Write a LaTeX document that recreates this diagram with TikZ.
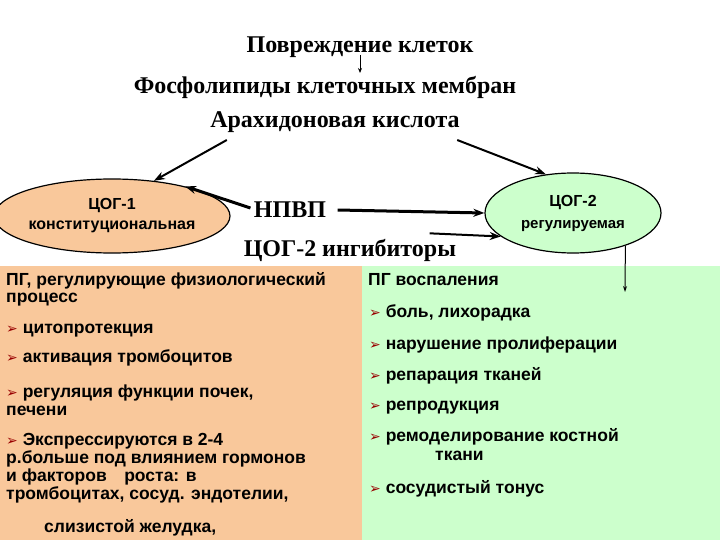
\documentclass[tikz,border=0pt]{standalone}
\usepackage{fontspec}
\usetikzlibrary{shapes.geometric,arrows.meta}
\setmainfont{Liberation Serif}
\setsansfont{Liberation Sans}
\newfontfamily\djfont{DejaVu Sans}
\definecolor{orfill}{HTML}{F9C89B}
\definecolor{grfill}{HTML}{CCFFCC}
\definecolor{bul}{HTML}{990000}
\newcommand{\bl}{{\djfont\color{bul}\fontsize{14}{14}\selectfont ➢}\ }
\begin{document}
\begin{tikzpicture}[x=1pt,y=-1pt,
  ser/.style={font=\bfseries\fontsize{24}{26}\selectfont\addfontfeature{FakeStretch=1.0}},
  lt/.style={font=\sffamily\bfseries\fontsize{17.5}{20}\selectfont,anchor=base west,inner sep=0},
  arr/.style={-{Stealth[length=11pt,width=8pt]},line width=2pt},
  ell/.style={ellipse,draw,line width=1.2pt,font=\sffamily\bfseries\fontsize{16}{18}\selectfont,align=center,inner sep=0pt}]
\useasboundingbox (0,0) rectangle (720,540);
\fill[orfill] (0,266) rectangle (362,540);
\fill[grfill] (362,266) rectangle (720,540);
\node[ser] (t1) at (360,47) {Повреждение клеток};
\node[ser] (t2) at (325,87) {Фосфолипиды клеточных мембран};
\node[ser] (t3) at (335,122) {Арахидоновая кислота};
\draw[-{Stealth[length=5pt,width=4pt]},line width=0.8pt] (360,55) -- (360,73);
\node[ell,fill=orfill,minimum width=198pt,minimum height=74pt] (c1) at (112,216) {ЦОГ-1\\[2pt]конституциональная};
\node[ell,fill=grfill,minimum width=176pt,minimum height=80pt] (c2) at (573,213) {ЦОГ-2\\[4pt]\fontsize{15}{17}\selectfont регулируемая};
\node[ser] (n) at (290,210) {НПВП};
\node[ser] (i) at (350,250) {ЦОГ-2 ингибиторы};
\draw[arr] (t3.south west) ++(20,4) -- (c1.40);
\draw[arr] (t3.south east) ++(-6,4) -- (c2.125);
\draw[arr,line width=3pt] (n.west) ++(0,-2) -- (c1.22);
\draw[arr,line width=3pt] (n.east) ++(8,0) -- (c2.180);
\draw[arr] (i.north east) ++(-30,-2) -- (c2.198);
\coordinate (pe) at (625,292);
\draw[-{Stealth[length=6pt,width=4pt]},line width=1pt] (c2.-32) -- (pe);
\node[lt] (l1) at (6,285) {ПГ, регулирующие физиологический};
\node[lt] (l2) at (6,302) {процесс};
\node[lt] (l3) at (6,333) {\bl цитопротекция};
\node[lt] (l4) at (6,362) {\bl активация тромбоцитов};
\node[lt] (l5) at (6,397) {\bl регуляция функции почек,};
\node[lt] (l6) at (6,415) {печени};
\node[lt] (l7) at (6,445) {\bl Экспрессируются в 2-4};
\node[lt] (l8) at (6,463) {р.больше под влиянием гормонов};
\node[lt] (l9) at (6,481) {и факторов\quad роста: в};
\node[lt] (l10) at (6,499) {тромбоцитах, сосуд. эндотелии,};
\node[lt] (l11) at (44,532) {слизистой желудка,};
\node[lt] (r1) at (368,285) {ПГ воспаления};
\node[lt] (r2) at (369,317) {\bl боль, лихорадка};
\node[lt] (r3) at (369,349) {\bl нарушение пролиферации};
\node[lt] (r4) at (369,380) {\bl репарация тканей};
\node[lt] (r5) at (369,410) {\bl репродукция};
\node[lt] (r6) at (369,441) {\bl ремоделирование костной};
\node[lt] (r7) at (435,460) {ткани};
\node[lt] (r8) at (369,493) {\bl сосудистый тонус};
\end{tikzpicture}
\end{document}
